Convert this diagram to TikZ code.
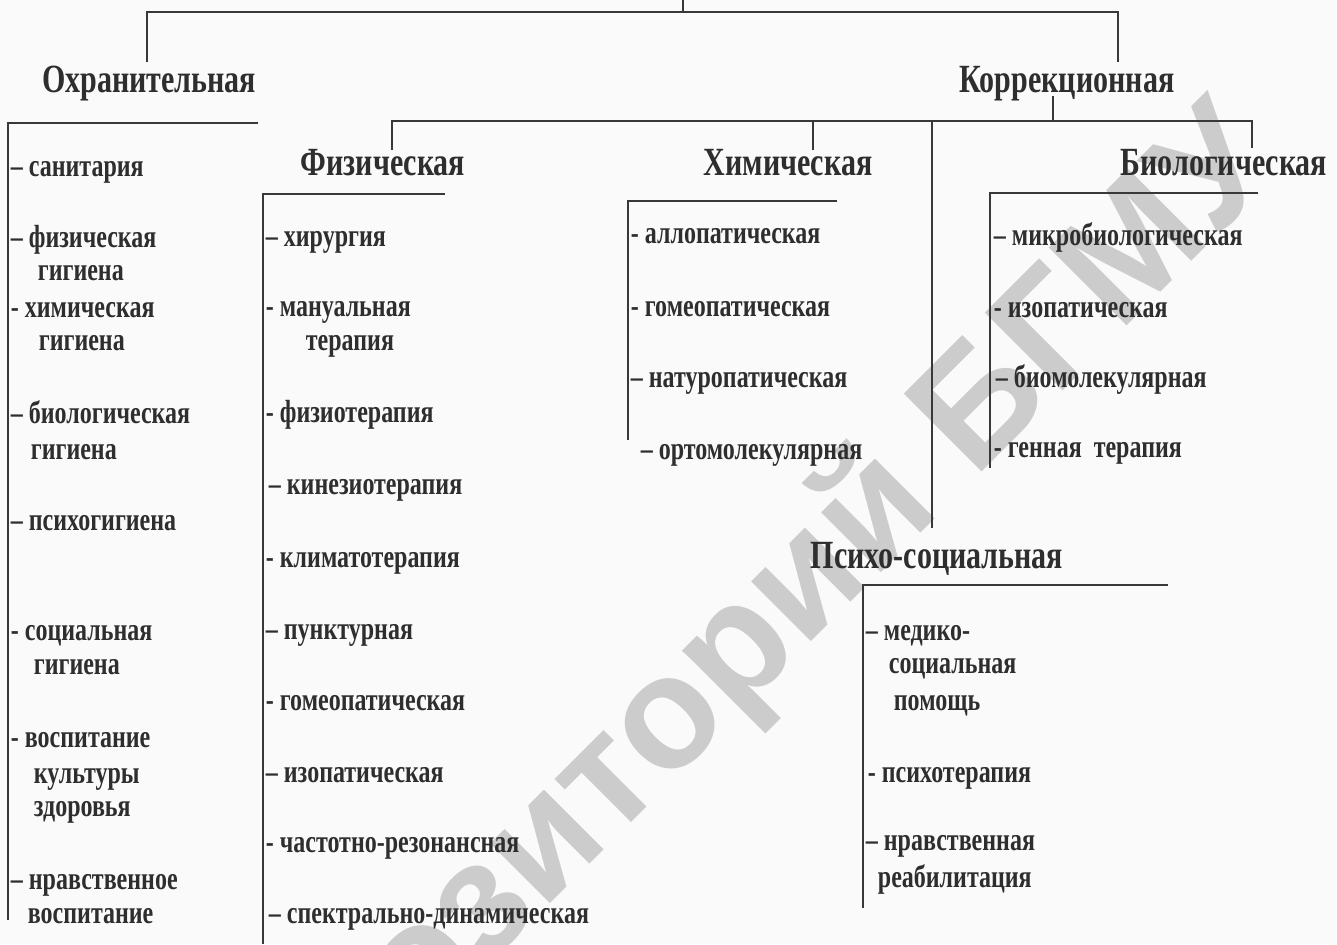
\documentclass[tikz,border=0pt]{standalone}
\usepackage{fontspec}
\setmainfont{Liberation Serif}[FakeStretch=0.75]
\newfontfamily\wmfont{Liberation Sans}
\usepackage{tikz}

\begin{document}
\begin{tikzpicture}[x=0.5pt,y=-0.5pt,line width=0.9pt,draw=black!78,
  head/.style={font=\fontsize{20}{22}\selectfont\bfseries,text=black!82,inner sep=0,anchor=base},
  item/.style={font=\fontsize{16}{18}\selectfont\bfseries,text=black!82,inner sep=0,anchor=base west}]
  \fill[black!2] (0,0) rectangle (1337,944);
  \useasboundingbox (0,0) rectangle (1337,944);
  % watermark
  \begin{scope}
    \clip (0,0) rectangle (1337,944);
    \node[rotate=45,text=black!20,font=\wmfont\bfseries\fontsize{80}{80}\selectfont] (wm) at (719,674) {Репозиторий БГМУ};
  \end{scope}

  % top level
  \coordinate (root) at (683,0);
  \coordinate (fork) at (683,12);
  \coordinate (a1) at (147,62);
  \coordinate (a2) at (1118,62);
  \draw (root) -- (fork);
  \draw (a1) |- (fork) -| (a2);
  \node[head] (ohr) at (149,92) {Охранительная};
  \node[head] (korr) at (1067,92) {Коррекционная};

  % Охранительная
  \coordinate (o1) at (258,123);
  \coordinate (o2) at (8,920);
  \draw (o1) -| (o2);
  \foreach \x/\y/\t [count=\i] in {10/166/{– санитария},10/237/{– физическая},37/270/{гигиена},
      10/307/{- химическая},38/340/{гигиена},10/413/{– биологическая},30/449/{гигиена},
      10/520/{– психогигиена},10/630/{- социальная},33/664/{гигиена},10/737/{- воспитание},
      33/773/{культуры},33/806/{здоровья},10/879/{– нравственное},27/913/{воспитание}}
    \node[item] (ohr\i) at (\x,\y+10) {\t};

  % Коррекционная
  \coordinate (k0) at (1053,96);
  \coordinate (k1) at (1053,121);
  \coordinate (bl) at (392,150);
  \coordinate (br) at (1252,148);
  \coordinate (hm) at (813,150);
  \coordinate (ps) at (932,528);
  \draw (k0) -- (k1);
  \draw (bl) |- (k1) -| (br);
  \draw (hm) -- (hm |- k1);
  \draw (ps) -- (ps |- k1);
  \node[head] (fiz) at (383,175) {Физическая};
  \node[head] (him) at (788,175) {Химическая};
  \node[head] (bio) at (1224,175) {Биологическая};
  \node[head] (psy) at (937,568) {Психо-социальная};

  % Физическая
  \coordinate (f1) at (445,194);
  \coordinate (f2) at (263,944);
  \draw (f1) -| (f2);
  \foreach \x/\y/\t [count=\i] in {265/236/{– хирургия},265/306/{- мануальная},305/340/{терапия},
      265/412/{- физиотерапия},268/484/{– кинезиотерапия},265/557/{- климатотерапия},
      265/629/{– пунктурная},265/700/{- гомеопатическая},265/772/{– изопатическая},
      265/842/{- частотно-резонансная},268/913/{– спектрально-динамическая}}
    \node[item] (fiz\i) at (\x,\y+10) {\t};

  % Химическая
  \coordinate (c1) at (837,201);
  \coordinate (c2) at (628,440);
  \draw (c1) -| (c2);
  \foreach \x/\y/\t [count=\i] in {630/233/{- аллопатическая},630/306/{- гомеопатическая},
      630/377/{– натуропатическая},640/449/{– ортомолекулярная}}
    \node[item] (him\i) at (\x,\y+10) {\t};

  % Биологическая
  \coordinate (b1) at (1258,193);
  \coordinate (b2) at (990,468);
  \draw (b1) -| (b2);
  \foreach \x/\y/\t [count=\i] in {993/235/{– микробиологическая},993/307/{- изопатическая},
      995/377/{– биомолекулярная},993/447/{- генная~~терапия}}
    \node[item] (bio\i) at (\x,\y+10) {\t};

  % Психо-социальная
  \coordinate (p1) at (1168,585);
  \coordinate (p2) at (863,908);
  \draw (p1) -| (p2);
  \foreach \x/\y/\t [count=\i] in {865/630/{– медико-},888/663/{социальная},893/700/{помощь},
      867/772/{- психотерапия},865/840/{– нравственная},877/877/{реабилитация}}
    \node[item] (psy\i) at (\x,\y+10) {\t};
\end{tikzpicture}
\end{document}
